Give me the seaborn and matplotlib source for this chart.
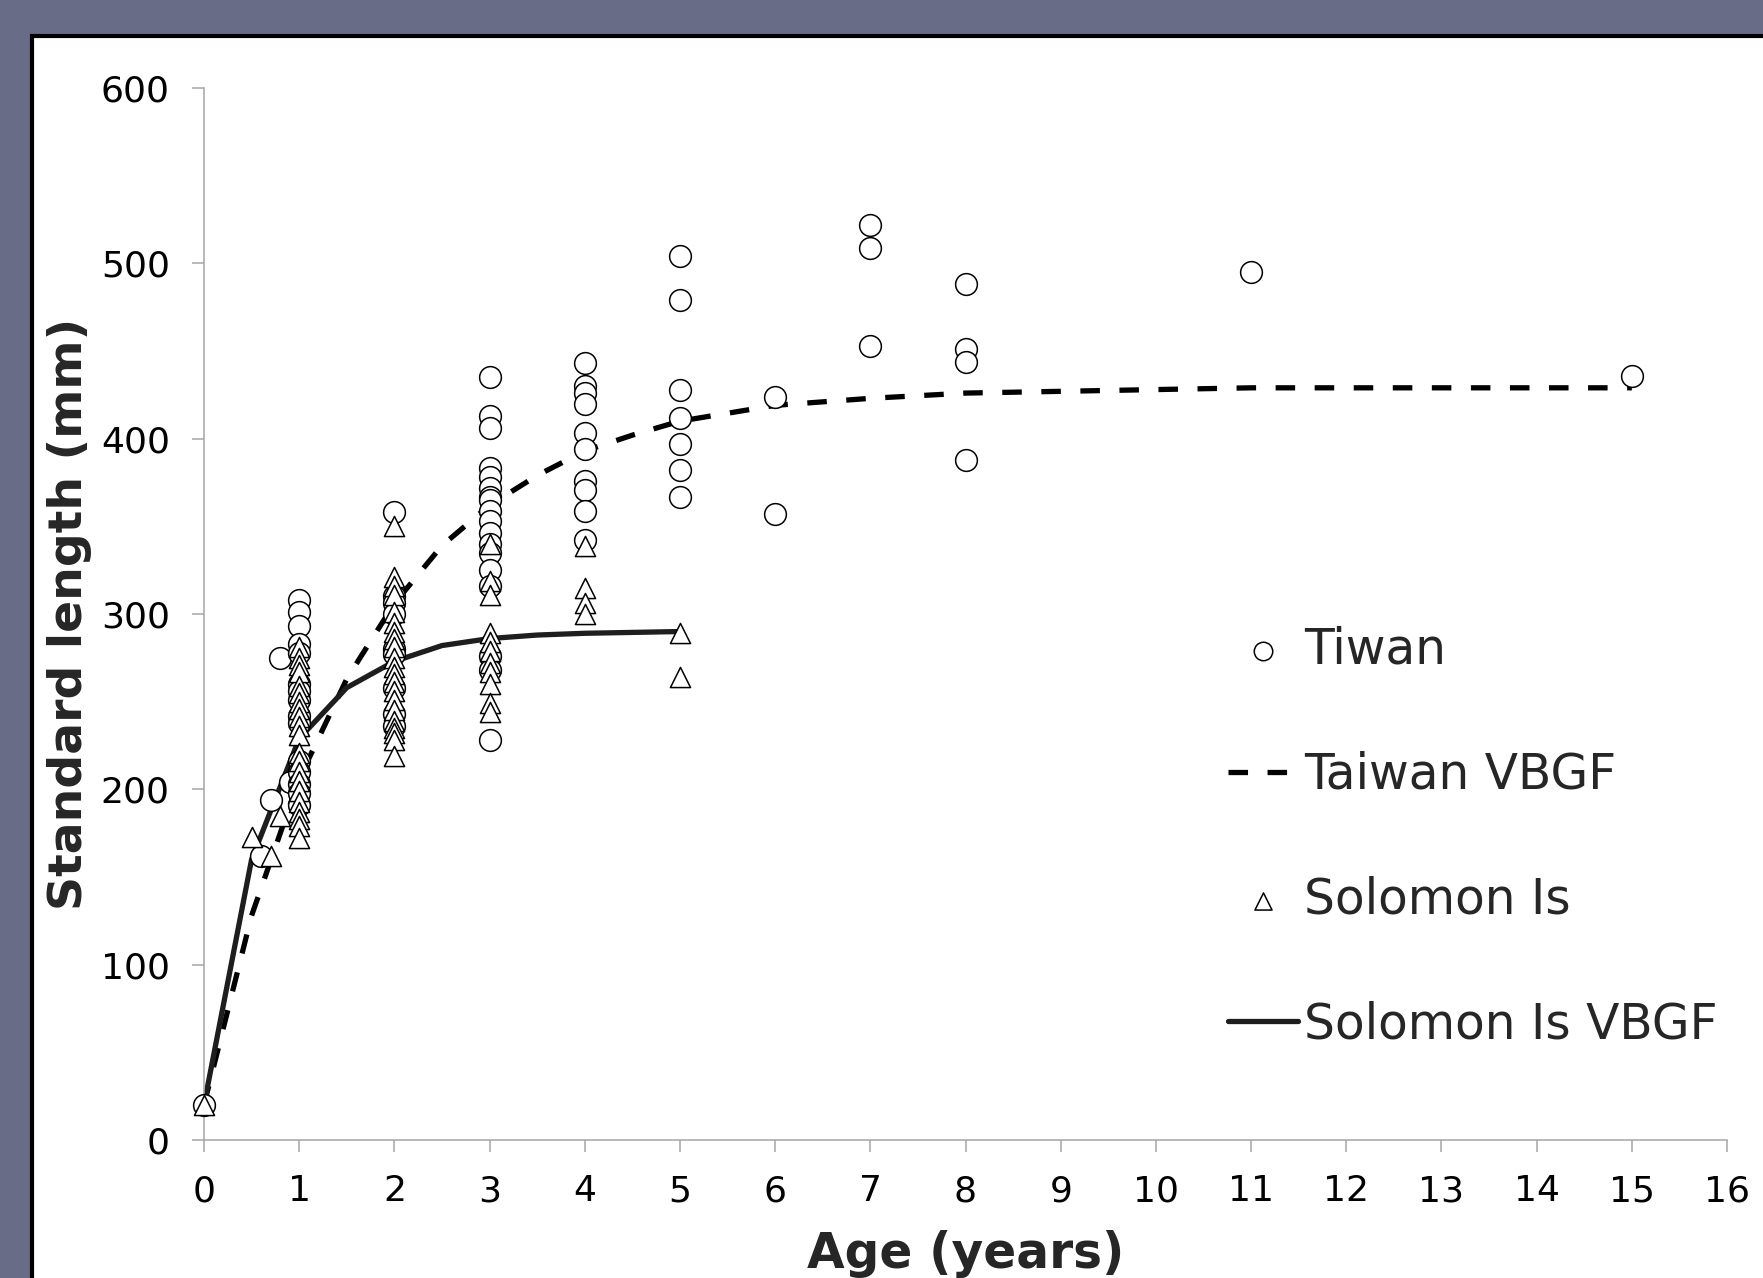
import pandas as pd
import seaborn as sns
import matplotlib.pyplot as plt
from matplotlib.patches import Rectangle

# Taiwan observations: age (years) and standard length (mm)
taiwan_age = [0, 0.6, 0.7, 0.8, 0.9,
              1, 1, 1, 1, 1, 1, 1, 1, 1, 1, 1, 1, 1, 1, 1,
              2, 2, 2, 2, 2, 2, 2, 2, 2,
              3, 3, 3, 3, 3, 3, 3, 3, 3, 3, 3, 3, 3, 3, 3, 3, 3, 3,
              4, 4, 4, 4, 4, 4, 4, 4, 4, 4,
              5, 5, 5, 5, 5, 5, 5,
              6, 6, 7, 7, 7, 8, 8, 8, 8, 11, 15]
taiwan_len = [20, 162, 194, 275, 204,
              308, 301, 293, 283, 278, 260, 256, 251, 242, 238, 216, 210, 203, 198, 191,
              358, 310, 306, 300, 280, 277, 258, 243, 236,
              435, 413, 406, 383, 378, 372, 367, 365, 359, 353, 346, 340, 335, 325, 316, 276, 268, 228,
              443, 430, 426, 420, 403, 394, 376, 371, 359, 342,
              504, 479, 428, 412, 397, 382, 367,
              424, 357, 522, 509, 453, 488, 451, 444, 388, 495, 436]

# Solomon Is observations
solomon_age = [0, 0.5, 0.7, 0.8,
               1, 1, 1, 1, 1, 1, 1, 1, 1, 1, 1, 1, 1, 1, 1, 1, 1, 1, 1, 1, 1,
               2, 2, 2, 2, 2, 2, 2, 2, 2, 2, 2, 2, 2, 2, 2, 2, 2, 2, 2, 2, 2,
               3, 3, 3, 3, 3, 3, 3, 3, 3, 3, 3,
               4, 4, 4, 4,
               5, 5]
solomon_len = [20, 173, 162, 185,
               281, 275, 271, 267, 259, 255, 250, 246, 241, 236, 231, 221, 216, 210, 205, 199, 193, 187, 183, 179, 172,
               350, 321, 316, 311, 301, 295, 290, 286, 281, 275, 270, 266, 261, 256, 251, 245, 239, 235, 232, 228, 219,
               340, 319, 311, 289, 284, 279, 272, 267, 260, 249, 244,
               339, 315, 306, 300,
               289, 264]

# fitted growth curves
taiwan_fit_age = [0, 0.5, 1, 1.5, 2, 2.5, 3, 3.5, 4, 4.5, 5, 6, 7, 8, 9, 10, 11, 12, 13, 14, 15]
taiwan_fit_len = [20, 128, 206, 263, 306, 339, 362, 379, 393, 402, 410, 419, 423, 426, 427, 428, 429, 429, 429, 429, 429]
solomon_fit_age = [0, 0.5, 1, 1.5, 2, 2.5, 3, 3.5, 4, 4.5, 5]
solomon_fit_len = [20, 160, 229, 258, 273, 282, 286, 288, 289, 289.5, 290]

tw = pd.DataFrame({'age': taiwan_age, 'length': taiwan_len})
si = pd.DataFrame({'age': solomon_age, 'length': solomon_len})
tw_fit = pd.DataFrame({'age': taiwan_fit_age, 'length': taiwan_fit_len})
si_fit = pd.DataFrame({'age': solomon_fit_age, 'length': solomon_fit_len})

sns.set_style('white')
plt.rcParams['font.family'] = ['DejaVu Sans']

W, H = 1763, 1278
fig = plt.figure(figsize=(W / 100, H / 100), dpi=100)
fig.patch.set_facecolor('#686c86')
fig.add_artist(Rectangle((32 / W, -0.1), 1.2, 1.1 - 36 / H, transform=fig.transFigure,
                         facecolor='white', edgecolor='black', linewidth=3, zorder=0))

ax = fig.add_axes([204 / W, 1 - 1140 / H, (1727 - 204) / W, (1140 - 88) / H])
ax.set_facecolor('none')

sns.lineplot(data=tw_fit, x='age', y='length', ax=ax, color='black', linewidth=3.8,
             linestyle=(0, (3.7, 3.7)), label='Taiwan VBGF', zorder=2)
sns.lineplot(data=si_fit, x='age', y='length', ax=ax, color='#1e1e1e', linewidth=3.8,
             label='Solomon Is VBGF', zorder=2)
sns.scatterplot(data=tw, x='age', y='length', ax=ax, marker='o', s=245, facecolor='white',
                edgecolor='black', linewidth=1.1, label='Tiwan', zorder=3, clip_on=False)
sns.scatterplot(data=si, x='age', y='length', ax=ax, marker='^', s=210, facecolor='white',
                edgecolor='black', linewidth=1.1, label='Solomon Is', zorder=4, clip_on=False)

ax.set_xlim(0, 16)
ax.set_ylim(0, 600)
ax.set_xticks(range(0, 17))
ax.set_yticks(range(0, 601, 100))

for side in ['top', 'right']:
    ax.spines[side].set_visible(False)
for side in ['left', 'bottom']:
    ax.spines[side].set_color('#a6a6a6')
    ax.spines[side].set_linewidth(1.1)
ax.tick_params(axis='both', direction='out', length=8.6, width=1.1, color='#a6a6a6',
               labelsize=26, pad=16, labelcolor='black', left=True, bottom=True)

ax.set_xlabel('Age (years)', fontsize=35, fontweight='bold', labelpad=16)
ax.set_ylabel('Standard length (mm)', fontsize=34, fontweight='bold', labelpad=6)

handles, labels = ax.get_legend_handles_labels()
order = ['Tiwan', 'Taiwan VBGF', 'Solomon Is', 'Solomon Is VBGF']
hmap = dict(zip(labels, handles))
ax.legend([hmap[k] for k in order], order, loc='upper left',
          bbox_to_anchor=(1228 / W, 1 - 626 / H), bbox_transform=fig.transFigure,
          frameon=False, borderpad=0, borderaxespad=0, handlelength=1.45,
          handletextpad=0.12, labelspacing=1.58, fontsize=35, markerscale=0.85)

plt.savefig('out.png', dpi=100, facecolor=fig.get_facecolor())
